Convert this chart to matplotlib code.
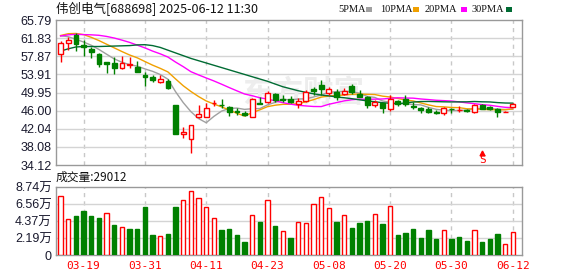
import matplotlib
matplotlib.use('Agg')
import matplotlib.pyplot as plt
from matplotlib.patches import Rectangle
import numpy as np

# ------------------------------------
#          - Chart data -
# ------------------------------------
dates = ['03-14', '03-17', '03-18', '03-19', '03-20', '03-21', '03-24', '03-25', '03-26', '03-27',
         '03-28', '03-31', '04-01', '04-02', '04-03', '04-07', '04-08', '04-09', '04-10', '04-11',
         '04-14', '04-15', '04-16', '04-17', '04-18', '04-21', '04-22', '04-23', '04-24', '04-25',
         '04-28', '04-29', '04-30', '05-06', '05-07', '05-08', '05-09', '05-12', '05-13', '05-14',
         '05-15', '05-16', '05-19', '05-20', '05-21', '05-22', '05-23', '05-26', '05-27', '05-28',
         '05-29', '05-30', '06-03', '06-04', '06-05', '06-06', '06-09', '06-10', '06-11', '06-12']

opens = [58.30, 60.70, 62.50, 60.30, 59.39, 58.36, 56.60, 56.46, 55.37, 56.00,
         55.59, 53.84, 53.34, 52.25, 52.40, 47.23, 40.83, 39.87, 44.54, 44.67,
         47.60, 47.30, 46.86, 45.97, 45.54, 44.67, 47.73, 47.81, 49.63, 48.60,
         48.47, 47.40, 48.17, 50.72, 51.60, 49.78, 50.14, 49.63, 51.44, 49.63,
         48.90, 47.23, 47.70, 46.35, 48.10, 48.47, 47.00, 46.50, 46.30, 45.76,
         45.40, 46.45, 46.10, 46.05, 45.76, 47.23, 46.70, 46.35, 45.70, 46.72]
highs = [61.20, 62.14, 62.88, 61.40, 59.96, 58.65, 56.70, 57.64, 57.93, 57.64,
         56.90, 54.36, 53.70, 53.70, 52.84, 47.30, 42.49, 42.86, 47.23, 47.60,
         48.30, 48.44, 47.10, 46.60, 45.90, 48.70, 48.88, 50.35, 49.90, 49.50,
         49.10, 48.70, 50.50, 51.20, 52.70, 51.10, 50.80, 50.90, 51.90, 50.40,
         49.10, 48.30, 47.70, 49.40, 48.30, 49.40, 47.90, 46.70, 46.70, 46.10,
         46.70, 46.60, 46.90, 46.30, 47.40, 47.50, 47.00, 46.50, 45.90, 47.70]
lows = [56.68, 59.24, 59.10, 58.00, 57.43, 55.60, 54.28, 54.09, 55.02, 55.37,
        54.50, 51.44, 52.20, 52.00, 50.70, 40.83, 39.95, 36.81, 44.32, 44.67,
        47.00, 46.50, 44.89, 45.00, 44.90, 44.67, 47.37, 47.60, 47.80, 47.80,
        47.60, 46.50, 47.80, 49.40, 49.40, 49.40, 48.30, 49.50, 49.60, 48.90,
        46.50, 46.80, 45.40, 46.00, 47.00, 46.90, 46.40, 45.40, 45.40, 45.20,
        45.10, 45.40, 45.60, 45.70, 45.50, 46.30, 46.20, 44.70, 45.60, 46.72]
closes = [60.70, 61.42, 60.55, 59.90, 58.80, 56.11, 56.25, 55.37, 56.33, 56.10,
          54.50, 53.27, 52.69, 52.84, 51.00, 40.83, 41.40, 42.79, 45.26, 46.48,
          47.75, 47.15, 45.76, 45.63, 45.04, 48.47, 47.37, 49.78, 48.32, 48.40,
          47.95, 48.20, 49.99, 50.35, 50.70, 50.72, 48.90, 50.35, 50.00, 49.04,
          47.23, 47.80, 46.50, 48.47, 47.50, 47.40, 46.80, 46.10, 45.70, 45.40,
          46.50, 46.40, 46.20, 46.00, 47.23, 46.40, 46.30, 45.63, 45.76, 47.45]
volumes = [75800, 45800, 50100, 56500, 50100, 47500, 54000, 38500, 35500, 33400,
           33400, 61700, 25700, 24000, 27000, 61700, 70200, 81800, 72800, 61200,
           47100, 32100, 33400, 25700, 16700, 51000, 42400, 70200, 37300, 30800,
           21800, 42400, 41100, 65500, 74100, 60000, 42400, 51000, 34700, 41100,
           43700, 52300, 39800, 62500, 25700, 28300, 33400, 21800, 32100, 20600,
           31700, 20600, 23100, 18000, 31700, 16700, 20600, 27000, 13700, 29012]

ma5 = [62.36, 62.14, 61.57, 60.98, 60.27, 59.36, 58.32, 57.29, 56.57, 56.03,
       55.71, 55.11, 54.58, 53.88, 52.86, 50.13, 47.75, 45.77, 44.26, 43.35,
       44.74, 45.89, 46.48, 46.55, 46.27, 46.41, 46.45, 47.26, 47.80, 48.47,
       48.36, 48.53, 48.57, 48.98, 49.44, 49.99, 50.13, 50.20, 50.13, 49.80,
       49.10, 48.88, 48.11, 47.81, 47.50, 47.53, 47.33, 47.25, 46.70, 46.28,
       46.10, 46.02, 46.04, 46.10, 46.47, 46.45, 46.43, 46.31, 46.26, 46.31]
ma10 = [62.40, 62.80, 62.85, 62.60, 62.00, 61.30, 60.50, 59.70, 58.90, 58.15,
        57.53, 56.72, 55.93, 55.23, 54.45, 52.92, 51.43, 50.18, 49.07, 48.11,
        47.43, 46.82, 46.13, 45.41, 44.81, 45.57, 46.17, 46.87, 47.18, 47.37,
        47.39, 47.49, 47.92, 48.39, 48.95, 49.18, 49.33, 49.39, 49.56, 49.62,
        49.55, 49.51, 49.16, 48.97, 48.65, 48.32, 48.11, 47.68, 47.25, 46.89,
        46.82, 46.68, 46.65, 46.40, 46.37, 46.27, 46.22, 46.18, 46.18, 46.39]
ma20 = [62.30, 62.55, 62.65, 62.60, 62.55, 62.45, 62.20, 61.85, 61.40, 60.90,
        60.30, 59.70, 59.00, 58.40, 57.70, 56.60, 55.60, 54.50, 53.80, 53.13,
        52.48, 51.77, 51.03, 50.32, 49.63, 49.25, 48.80, 48.52, 48.12, 47.74,
        47.41, 47.16, 47.02, 46.90, 46.88, 47.38, 47.75, 48.13, 48.37, 48.49,
        48.47, 48.50, 48.54, 48.68, 48.80, 48.75, 48.72, 48.54, 48.41, 48.26,
        48.18, 48.09, 47.90, 47.69, 47.51, 47.30, 47.17, 46.93, 46.72, 46.64]
ma30 = [59.00, 59.50, 59.90, 60.00, 60.00, 60.00, 60.05, 60.10, 60.15, 60.20,
        60.35, 60.40, 60.20, 59.80, 59.20, 58.60, 58.00, 57.40, 56.90, 56.40,
        55.90, 55.40, 54.90, 54.40, 53.90, 53.40, 52.90, 52.40, 51.80, 51.21,
        50.78, 50.34, 49.99, 49.67, 49.40, 49.22, 48.98, 48.81, 48.60, 48.36,
        48.12, 47.94, 47.73, 47.59, 47.47, 47.69, 47.87, 47.98, 48.00, 47.96,
        47.92, 47.89, 47.91, 47.92, 47.99, 47.92, 47.89, 47.75, 47.66, 47.63]

price_ticks = [34.12, 38.08, 42.04, 46.00, 49.95, 53.91, 57.87, 61.83, 65.79]
vol_ticks = [0, 21900, 43700, 65600, 87400]
vol_tick_labels = ['0', '2.19万', '4.37万', '6.56万', '8.74万']
label_every = 8
signal_day = '06-06'

# ------------------------------------
#          - Styles -
# ------------------------------------
RED = '#ff0000'
GREEN = '#008000'
GRID = '#d4d4d4'
BORDER = '#999999'
ma_colors = {'5PMA': '#a0a0a0', '10PMA': '#f0a000', '20PMA': '#ff00ff', '30PMA': '#006b33'}
legend_x = [338, 380, 425, 472]     # pixel x of each legend label
legend_sq = [366, 413, 461, 506]    # pixel x of each legend swatch
cjk = ['Noto Sans CJK SC', 'DejaVu Sans']
num_font = ['Liberation Sans', 'Noto Sans CJK SC']

W, H = 578, 276
fig = plt.figure(figsize=(W / 100, H / 100), dpi=100)

def box(l, t, r, b):
    return [l / W, 1 - b / H, (r - l) / W, (b - t) / H]

ax = fig.add_axes(box(56, 20, 522, 165))
axv = fig.add_axes(box(56, 187, 522, 255))

x = np.arange(len(dates))
o = np.array(opens); c = np.array(closes)
hi = np.array(highs); lo = np.array(lows)
up = c >= o
xlim = (-0.6, len(dates) + 0.2)

for a in (ax, axv):
    a.set_xlim(*xlim)
    for s in a.spines.values():
        s.set_color(BORDER)
        s.set_linewidth(1)
    a.tick_params(length=0)
    for i in range(3, len(dates), label_every):
        a.axvline(i, color='#c8c8c8', lw=1, ls=(0, (3, 3)), zorder=0)

# --- price panel ---
ax.set_ylim(price_ticks[0], price_ticks[-1])
ax.set_yticks(price_ticks)
ax.set_yticklabels(['%.2f' % v for v in price_ticks], family=num_font, fontsize=9, color='#1a1a2e')
ax.tick_params(axis='y', pad=3)
ax.set_xticks([])
for v in price_ticks[1:-1]:
    ax.axhline(v, color=GRID, lw=1, zorder=0)

# watermark
ax.text(0.53, 0.5, '东方财富', transform=ax.transAxes, ha='center', va='center',
        fontsize=22, fontweight='bold', color='#ededed', family=cjk, zorder=0.5, style='italic')

for name, vals in zip(ma_colors, (ma5, ma10, ma20, ma30)):
    ax.plot(x, vals, color=ma_colors[name], lw=1, zorder=2)

ax.vlines(x, lo, hi, colors=np.where(up, RED, GREEN), lw=1, zorder=3)
bottom = np.minimum(o, c)
height = np.maximum(np.abs(c - o), 0.06)
ax.bar(x[up], height[up], bottom=bottom[up], width=0.62, facecolor='white',
       edgecolor=RED, lw=1, zorder=4)
ax.bar(x[~up], height[~up], bottom=bottom[~up], width=0.62, facecolor=GREEN,
       edgecolor=GREEN, lw=1, zorder=4)

# buy signal marker
si = dates.index(signal_day)
ax.text(si, 0.035, 'S', transform=ax.get_xaxis_transform(), ha='center', va='center',
        color=RED, fontsize=8, family='DejaVu Sans Mono', zorder=5)
ax.plot([si], [0.085], transform=ax.get_xaxis_transform(), marker='^', ms=3.5,
        color=RED, zorder=5, clip_on=False)

# --- volume panel ---
ref = np.r_[o[0], c[:-1]]
vup = c >= ref
vol = np.array(volumes)
axv.set_ylim(vol_ticks[0], vol_ticks[-1])
axv.set_yticks(vol_ticks)
axv.set_yticklabels(vol_tick_labels, family=num_font, fontsize=9, color='#1a1a2e')
axv.tick_params(axis='y', pad=3)
for v in vol_ticks[1:-1]:
    axv.axhline(v, color=GRID, lw=1, zorder=0)
axv.bar(x[vup], vol[vup], width=0.56, facecolor='white', edgecolor=RED, lw=1, zorder=3)
axv.bar(x[~vup], vol[~vup], width=0.56, facecolor=GREEN, edgecolor=GREEN, lw=1, zorder=3)
lab_idx = list(range(3, len(dates), label_every))
axv.set_xticks(lab_idx)
axv.set_xticklabels([dates[i] for i in lab_idx], color=RED, fontsize=8, family='DejaVu Sans Mono')
axv.tick_params(axis='x', pad=4)

# --- header texts ---
fig.text(56 / W, 1 - 9 / H, '伟创电气[688698] 2025-06-12 11:30', family=cjk, fontsize=9,
         va='center', ha='left', color='#111111')
fig.text(56 / W, 1 - 177 / H, '成交量:%d' % volumes[-1], family=cjk, fontsize=8.5,
         va='center', ha='left', color='#111111')

for (name, col), lx, sx in zip(ma_colors.items(), legend_x, legend_sq):
    fig.text(lx / W, 1 - 9 / H, name, family='Liberation Serif', fontsize=7.5,
             va='center', ha='left', color='#111111')
    fig.add_artist(Rectangle((sx / W, 1 - 11.5 / H), 6 / W, 5 / H, transform=fig.transFigure,
                             facecolor=col, edgecolor='none'))

fig.savefig('out.png', dpi=100)
